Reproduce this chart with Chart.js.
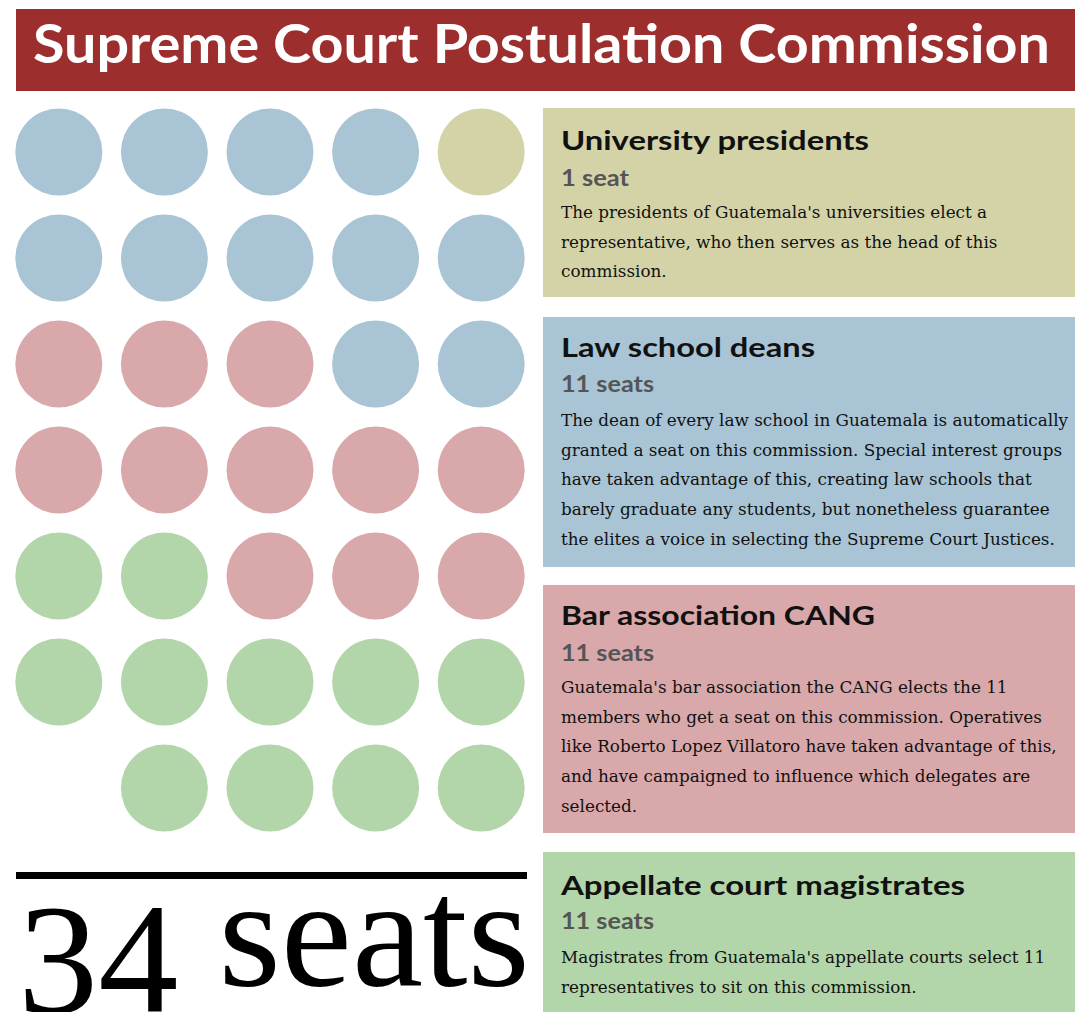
<!DOCTYPE html>
<html>
<head>
<meta charset="utf-8">
<title>Supreme Court Postulation Commission</title>
<script src="https://cdn.jsdelivr.net/npm/chart.js@4/dist/chart.umd.min.js"></script>
<style>
html,body{margin:0;padding:0;background:#fff;}
#page{position:relative;width:1075px;height:1012px;overflow:hidden;background:#fff;}
.t{position:absolute;white-space:nowrap;line-height:1;transform-origin:0 0;}
.box{position:absolute;left:543px;width:532px;}
#bar{position:absolute;left:16px;top:9px;width:1059px;height:82px;background:#9d2e2e;}
#title{font-family:Lato,"Open Sans",sans-serif;font-weight:700;font-size:53px;color:#fff;}
.head{font-family:Lato,"Open Sans",sans-serif;font-weight:700;font-size:26px;color:#111;}
.seat{font-family:Lato,"Open Sans",sans-serif;font-weight:700;font-size:23px;color:#555;}
.body{font-family:"DejaVu Serif",serif;font-size:16px;color:#111;}
#rule{position:absolute;left:16px;top:872px;width:511px;height:7px;background:#000;}
#total{font-family:"Liberation Serif","Times New Roman",serif;font-size:156px;color:#000;}
#chartWrap{position:absolute;left:6px;top:99px;width:528px;height:742px;}
</style>
</head>
<body>
<div id="page">
  <div id="bar"></div>
  <div id="chartWrap"><canvas id="c" width="528" height="742"></canvas></div>
  <div id="rule"></div>
</div>
<script>
// ---- data ----
const groups = ['University presidents', 'Law school deans', 'Bar association CANG', 'Appellate court magistrates'];
const seats = [1, 11, 11, 11];
const seatLabels = ['1 seat', '11 seats', '11 seats', '11 seats'];
const colors = ['#d4d3a8', '#a8c4d5', '#d9a8aa', '#b2d5a9'];
const descUniversity = [
  "The presidents of Guatemala's universities elect a",
  "representative, who then serves as the head of this",
  "commission."
];
const descDeans = [
  "The dean of every law school in Guatemala is automatically",
  "granted a seat on this commission. Special interest groups",
  "have taken advantage of this, creating law schools that",
  "barely graduate any students, but nonetheless guarantee",
  "the elites a voice in selecting the Supreme Court Justices."
];
const descBar = [
  "Guatemala's bar association the CANG elects the 11",
  "members who get a seat on this commission. Operatives",
  "like Roberto Lopez Villatoro have taken advantage of this,",
  "and have campaigned to influence which delegates are",
  "selected."
];
const descAppellate = [
  "Magistrates from Guatemala's appellate courts select 11",
  "representatives to sit on this commission."
];
const descriptions = [descUniversity, descDeans, descBar, descAppellate];
const titleText = 'Supreme Court Postulation Commission';
const columns = 5;
const rows = 7;

// ---- layout (positions / sizes) ----
const boxTops = [108, 317, 585, 852];
const boxHeights = [189, 250, 248, 170];
const headBase = [150, 357, 625, 895];
const headW = [308, 254, 314, 404];
const seatBase = [186, 392, 661, 929];
const seatW = [68, 93, 93, 93];
const bodyFirst = [218, 426, 693, 963];
const lineGap = 29.7;

const page = document.getElementById('page');

function place(el, x, base, w) {
  el.style.left = x + 'px';
  el.style.top = '0px';
  const m = document.createElement('span');
  m.style.cssText = 'display:inline-block;width:0;height:0;vertical-align:baseline';
  el.appendChild(m);
  const b = m.getBoundingClientRect().top - el.getBoundingClientRect().top;
  el.style.top = (base - b) + 'px';
  if (w) {
    const nat = el.getBoundingClientRect().width;
    el.style.transform = 'scaleX(' + (w / nat) + ')';
  }
}
function addText(cls, txt, id) {
  const el = document.createElement('div');
  el.className = 't ' + cls;
  if (id) el.id = id;
  el.textContent = txt;
  page.appendChild(el);
  return el;
}

// title
const tEl = addText('', titleText, 'title');
place(tEl, 33, 63, 1017);

// boxes
groups.forEach((g, i) => {
  const b = document.createElement('div');
  b.className = 'box';
  b.style.top = boxTops[i] + 'px';
  b.style.height = boxHeights[i] + 'px';
  b.style.background = colors[i];
  page.insertBefore(b, document.getElementById('chartWrap'));
  place(addText('head', g), 561, headBase[i], headW[i]);
  place(addText('seat', seatLabels[i]), 561, seatBase[i], seatW[i]);
});
// body lines, common horizontal factor
const refLine = addText('body', descDeans[0]);
const refW = refLine.getBoundingClientRect().width;
const bodyScale = 507 / refW;
refLine.remove();
descriptions.forEach((lines, i) => {
  lines.forEach((ln, k) => {
    const el = addText('body', ln);
    place(el, 561, bodyFirst[i] + k * lineGap);
    el.style.transform = 'scaleX(' + bodyScale + ')';
  });
});

// total label
const total = seats.reduce((a, b) => a + b, 0);
const totEl = document.createElement('div');
totEl.className = 't';
totEl.id = 'total';
const num = document.createElement('span');
num.textContent = String(total);
num.style.position = 'relative';
num.style.top = '27px';
totEl.appendChild(num);
totEl.appendChild(document.createTextNode(' seats'));
page.appendChild(totEl);
place(totEl, 18, 985, 512);

// ---- waffle points from seat counts: filled from top-right, right to left ----
let offset = 0;
const datasets = groups.map((g, i) => {
  const pts = [];
  for (let k = 0; k < seats[i]; k++) {
    const idx = offset + k;
    pts.push({ x: (columns - 1) - (idx % columns), y: Math.floor(idx / columns) });
  }
  offset += seats[i];
  return {
    label: g,
    data: pts,
    backgroundColor: colors[i],
    borderWidth: 0,
    pointRadius: 43.5,
    pointHoverRadius: 43.5,
    clip: false
  };
});

new Chart(document.getElementById('c'), {
  type: 'scatter',
  data: { datasets },
  options: {
    responsive: false,
    animation: false,
    devicePixelRatio: 1,
    layout: { padding: 0, autoPadding: false },
    plugins: { legend: { display: false }, tooltip: { enabled: false } },
    scales: {
      x: { type: 'linear', min: -0.5, max: columns - 0.5, display: false },
      y: { type: 'linear', min: -0.5, max: rows - 0.5, reverse: true, display: false }
    }
  }
});
</script>
</body>
</html>
